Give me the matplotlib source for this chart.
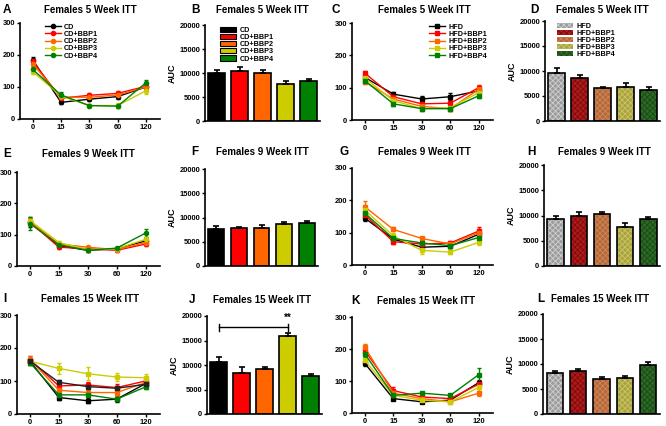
import matplotlib.pyplot as plt
from matplotlib.patches import Patch
from matplotlib.lines import Line2D

plt.rcParams['font.family'] = ['Liberation Sans', 'DejaVu Sans']
plt.rcParams['font.weight'] = 'bold'
plt.rcParams['hatch.linewidth'] = 0.6

W, H = 666, 426

times = ['0', '15', '30', '60', '120']
cd_groups = ['CD', 'CD+BBP1', 'CD+BBP2', 'CD+BBP3', 'CD+BBP4']
hfd_groups = ['HFD', 'HFD+BBP1', 'HFD+BBP2', 'HFD+BBP3', 'HFD+BBP4']
colors = ['#000000', '#ff0000', '#ff6600', '#cccc00', '#008000']
hfd_fill = ['#9c9c9c', '#b01a1a', '#b4683a', '#a8a240', '#2c6a25']
hfd_hatch = ['#cfcfcf', '#7a0c0c', '#d08658', '#cbc566', '#1a4a16']

# ITT curves: glucose per time point (mean, sem), one row per group
a_mean = [[185, 52, 62, 70, 100], [180, 65, 74, 80, 102], [172, 68, 68, 75, 100],
          [148, 72, 42, 42, 88], [155, 75, 42, 40, 113]]
a_err = [[8, 5, 5, 6, 8], [8, 6, 8, 6, 8], [10, 5, 6, 5, 8], [8, 8, 4, 8, 10], [10, 8, 4, 6, 10]]

c_mean = [[132, 80, 65, 72, 90], [145, 72, 50, 52, 100], [118, 65, 42, 35, 95],
          [130, 60, 35, 38, 85], [122, 50, 35, 35, 75]]
c_err = [[8, 8, 10, 10, 8], [8, 6, 6, 8, 8], [6, 6, 6, 6, 8], [8, 6, 4, 4, 8], [8, 6, 6, 6, 6]]

e_mean = [[140, 65, 50, 55, 80], [140, 60, 55, 50, 70], [142, 70, 60, 52, 75],
          [145, 75, 52, 55, 85], [135, 68, 50, 57, 105]]
e_err = [[15, 5, 5, 5, 8], [10, 6, 5, 4, 6], [10, 5, 5, 4, 6], [10, 5, 5, 4, 8], [20, 6, 5, 4, 12]]

g_mean = [[145, 80, 55, 58, 95], [155, 72, 65, 68, 105], [180, 110, 82, 65, 100],
          [170, 90, 45, 40, 70], [160, 82, 68, 60, 85]]
g_err = [[8, 6, 6, 6, 8], [10, 6, 6, 6, 12], [18, 6, 6, 6, 10], [10, 8, 10, 6, 8], [10, 8, 6, 6, 8]]

i_mean = [[160, 50, 40, 45, 92], [165, 85, 88, 80, 100], [165, 72, 65, 65, 95],
          [160, 138, 122, 112, 110], [155, 58, 58, 45, 82], [160, 96, 83, 78, 90]]
i_err = [[10, 8, 8, 8, 8], [10, 15, 10, 10, 10], [10, 10, 8, 10, 10],
         [5, 18, 20, 12, 10], [8, 8, 6, 6, 6], [8, 8, 8, 8, 8]]

k_mean = [[155, 45, 35, 40, 95], [195, 70, 50, 45, 90], [205, 62, 45, 35, 62],
          [165, 55, 40, 35, 80], [185, 55, 62, 55, 120]]
k_err = [[8, 5, 5, 5, 8], [10, 10, 6, 5, 8], [10, 6, 5, 5, 8], [10, 6, 5, 5, 10], [10, 6, 5, 5, 22]]

# AUC bars (mean, sem)
b_auc = [10000, 10400, 10100, 7700, 8300]
b_err = [700, 900, 500, 600, 500]
d_auc = [9600, 8700, 6600, 6900, 6300]
d_err = [1100, 500, 300, 800, 500]
f_auc = [7700, 7900, 7900, 8600, 8900]
f_err = [500, 200, 500, 500, 400]
h_auc = [9300, 9900, 10200, 7700, 9300]
h_err = [600, 800, 500, 900, 400]
j_auc = [10600, 8400, 9200, 15900, 7800]
j_err = [1100, 1200, 400, 600, 300]
l_auc = [8200, 8600, 7100, 7200, 9800]
l_err = [400, 400, 400, 400, 600]

fig = plt.figure(figsize=(W / 100, H / 100), dpi=100)


def make_ax(l, t, r, b):
    ax = fig.add_axes([l / W, 1 - b / H, (r - l) / W, (b - t) / H])
    ax.spines['top'].set_visible(False)
    ax.spines['right'].set_visible(False)
    ax.spines['left'].set_linewidth(1.2)
    ax.spines['bottom'].set_linewidth(1.2)
    ax.tick_params(labelsize=5.4, length=2, width=1, pad=1.5)
    return ax


def label(x, y, letter, title, tx):
    fig.text(x / W, 1 - y / H, letter, fontsize=8.5, fontweight='bold', va='center')
    fig.text(tx / W, 1 - y / H, title, fontsize=7, fontweight='bold', va='center', ha='center')


def line_panel(ax, means, errs, marker, line_colors):
    x = range(len(times))
    for m, e, c in zip(means, errs, line_colors):
        ax.errorbar(x, m, yerr=e, color=c, marker=marker, ms=3, lw=1, capsize=1.5,
                    elinewidth=1, capthick=1)
    ax.set_xlim(-0.45, 4.5)
    ax.set_ylim(0, 300)
    ax.set_yticks([0, 100, 200, 300])
    ax.set_xticks(list(x))
    ax.set_xticklabels(times)


def bar_panel(ax, vals, errs, hatched):
    x = list(range(len(vals)))
    low = [0] * len(vals)
    if hatched:
        ax.bar(x, vals, width=0.7, color=hfd_fill, edgecolor=hfd_hatch, hatch='xxxxxx', lw=0)
        ax.bar(x, vals, width=0.7, fill=False, edgecolor='black', lw=1.2)
    else:
        ax.bar(x, vals, width=0.7, color=colors, edgecolor='black', lw=1.2)
    ax.errorbar(x, vals, yerr=[low, errs], fmt='none', ecolor='black', elinewidth=1.2,
                capsize=2.5, capthick=1.2)
    ax.set_xlim(-0.5, 4.5)
    ax.set_ylim(0, 20000)
    ax.set_yticks([0, 5000, 10000, 15000, 20000])
    ax.set_xticks([])
    ax.set_ylabel('AUC', fontsize=6.5, fontweight='bold', labelpad=2)


leg_kw = dict(frameon=False, fontsize=5.2, labelspacing=0.02, borderpad=0, handletextpad=0.5,
              handlelength=2.2)

# row 1
ax = make_ax(20, 23, 160, 119)
line_panel(ax, a_mean, a_err, 'o', colors)
handles = [Line2D([], [], color=c, marker='o', ms=3, lw=1) for c in colors]
ax.legend(handles, cd_groups, loc='upper left', bbox_to_anchor=(0.15, 1.03), **leg_kw)
label(3, 10, 'A', 'Females 5 Week ITT', 90)

ax = make_ax(205, 25, 320, 121)
bar_panel(ax, b_auc, b_err, False)
handles = [Patch(facecolor=c, edgecolor='black', lw=0.8) for c in colors]
ax.legend(handles, cd_groups, loc='upper left', bbox_to_anchor=(0.1, 1.02), **leg_kw)
label(191, 10, 'B', 'Females 5 Week ITT', 262)

ax = make_ax(352, 23, 493, 120)
line_panel(ax, c_mean, c_err, 's', colors)
handles = [Line2D([], [], color=c, marker='s', ms=3, lw=1) for c in colors]
ax.legend(handles, hfd_groups, loc='upper left', bbox_to_anchor=(0.52, 1.03), **leg_kw)
label(332, 10, 'C', 'Females 5 Week ITT', 424)

ax = make_ax(545, 21, 660, 121)
bar_panel(ax, d_auc, d_err, True)
handles = [Patch(facecolor=f, edgecolor=h, hatch='xxxxxx', lw=0) for f, h in zip(hfd_fill, hfd_hatch)]
ax.legend(handles, hfd_groups, loc='upper left', bbox_to_anchor=(0.07, 1.02), **leg_kw)
label(530, 10, 'D', 'Females 5 Week ITT', 602)

# row 2
ax = make_ax(17, 172, 160, 266)
line_panel(ax, e_mean, e_err, 'o', colors)
label(3, 154, 'E', 'Females 9 Week ITT', 88)

ax = make_ax(205, 169, 318, 266)
bar_panel(ax, f_auc, f_err, False)
label(191, 152, 'F', 'Females 9 Week ITT', 262)

ax = make_ax(352, 168, 493, 265)
line_panel(ax, g_mean, g_err, 's', colors)
label(340, 152, 'G', 'Females 9 Week ITT', 424)

ax = make_ax(544, 165, 660, 266)
bar_panel(ax, h_auc, h_err, True)
label(527, 152, 'H', 'Females 9 Week ITT', 604)

# row 3
ax = make_ax(17, 315, 160, 414)
line_panel(ax, i_mean, i_err, 's', colors + ['#222222'])
label(3, 299, 'I', 'Females 15 Week ITT', 90)

ax = make_ax(207, 316, 322, 414)
bar_panel(ax, j_auc, j_err, False)
ax.plot([0, 3], [17700, 17700], color='black', lw=1)
ax.plot([0, 0], [17000, 18400], color='black', lw=1)
ax.plot([3, 3], [17000, 18400], color='black', lw=1)
ax.text(3, 18600, '**', ha='center', va='bottom', fontsize=7, fontweight='bold')
label(189, 300, 'J', 'Females 15 Week ITT', 262)

ax = make_ax(352, 317, 493, 413)
line_panel(ax, k_mean, k_err, 's', colors)
label(351, 301, 'K', 'Females 15 Week ITT', 426)

ax = make_ax(543, 314, 660, 414)
bar_panel(ax, l_auc, l_err, True)
label(537, 299, 'L', 'Females 15 Week ITT', 600)

fig.savefig('out.png', dpi=100)
